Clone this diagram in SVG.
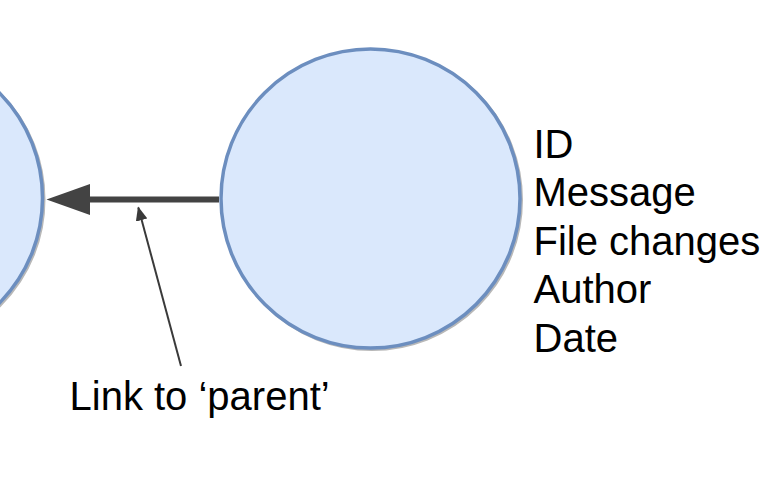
<svg xmlns="http://www.w3.org/2000/svg" width="771" height="483" viewBox="0 0 771 483">
<defs>
<style>
.node{fill:#dae8fc;stroke:#6c8ebf;stroke-width:3.5}
.shadow{fill:none;stroke:#b8b8b8;stroke-width:3}
.lbl{font-family:"Liberation Sans",Arial,sans-serif;font-size:40px;fill:#000}
</style>
<marker id="thin" viewBox="0 0 14 12" refX="13" refY="6" markerWidth="14" markerHeight="12" markerUnits="userSpaceOnUse" orient="auto">
<path d="M0,0 L14,6 L0,12 Z" fill="#3a3a3a"/>
</marker>
</defs>
<rect width="771" height="483" fill="#fff"/>
<g id="node-parent">
<circle class="shadow" cx="-105.5" cy="199.5" r="149.5"/>
<circle class="node" cx="-107" cy="198" r="149.5"/>
</g>
<g id="node-commit">
<circle class="shadow" cx="372" cy="200" r="149.5"/>
<circle class="node" cx="370.5" cy="198.5" r="149.5"/>
<text class="lbl" x="533.5" y="157.5">ID</text>
<text class="lbl" x="533.5" y="206">Message</text>
<text class="lbl" x="533.5" y="254.5">File changes</text>
<text class="lbl" x="533.5" y="303">Author</text>
<text class="lbl" x="533.5" y="351.5">Date</text>
</g>
<g id="connectors">
<line x1="219" y1="199.5" x2="88" y2="199.5" stroke="#434343" stroke-width="6"/>
<polygon points="46.5,199.5 90,184 90,215" fill="#434343"/>
<line x1="181" y1="366" x2="138.3" y2="207.5" stroke="#3a3a3a" stroke-width="2" marker-end="url(#thin)"/>
</g>
<g id="label-link">
<text class="lbl" x="69.5" y="410">Link to ‘parent’</text>
</g>
</svg>
